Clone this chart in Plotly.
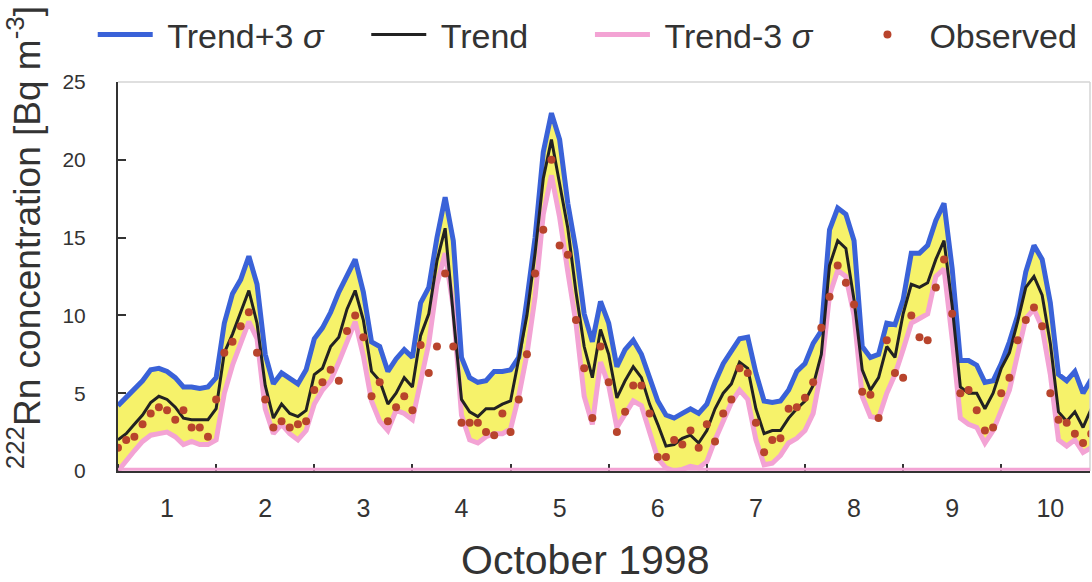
import plotly.graph_objects as go

# time axis: hours since 1 Oct 1998 00:00, 2-hour steps
hours = list(range(0, 240, 2))
day_labels = ["1", "2", "3", "4", "5", "6", "7", "8", "9", "10"]
day_centers = [12, 36, 60, 84, 108, 132, 156, 180, 204, 228]
y_ticks = [0, 5, 10, 15, 20, 25]

trend = [2.0, 2.4, 3.0, 3.6, 4.4, 4.8, 4.6, 4.1, 3.4, 3.3, 3.3, 3.3,
         4.0, 7.6, 8.8, 10.2, 11.6, 9.5, 5.5, 3.4, 4.3, 3.7, 3.5, 3.9,
         6.2, 6.6, 8.0, 8.6, 10.4, 11.6, 9.7, 6.4, 5.8, 4.3, 5.0, 6.0,
         5.4, 8.7, 10.1, 13.5, 15.6, 10.0, 4.6, 3.8, 3.5, 4.0, 4.0, 4.3,
         4.5, 7.2, 10.0, 14.0, 18.8, 21.3, 18.5, 15.6, 11.5, 8.0, 6.0, 9.1,
         7.5, 4.7, 5.8, 6.7, 6.0, 4.3, 3.0, 1.6, 1.7, 2.1, 2.3, 1.8,
         2.6, 4.0, 5.0, 5.6, 7.0, 6.6, 4.0, 2.4, 2.6, 2.6, 3.4, 4.0,
         4.5, 5.5, 7.5, 13.2, 14.8, 14.3, 11.0, 6.5, 5.2, 6.0, 8.0, 7.3,
         10.1, 12.0, 11.8, 12.1, 13.6, 14.8, 10.6, 5.4, 5.0, 5.0, 4.0, 5.0,
         6.6, 7.6, 9.6, 11.8, 12.5, 11.3, 8.2, 3.8, 3.2, 3.8, 2.8, 4.0]

upper = [4.2, 4.7, 5.2, 5.8, 6.5, 6.6, 6.4, 6.0, 5.4, 5.4, 5.3, 5.4,
         6.0, 9.5, 11.4, 12.3, 13.8, 12.0, 7.5, 5.6, 6.3, 5.9, 5.6, 6.5,
         8.5, 9.2, 10.2, 11.5, 12.5, 13.6, 11.5, 8.3, 8.0, 6.4, 7.2, 7.8,
         7.3, 10.8, 11.8, 15.0, 17.6, 14.8, 7.3, 6.0, 5.7, 5.8, 6.4, 6.4,
         6.5, 7.3, 11.0, 15.0, 20.5, 23.0, 21.3, 17.2, 14.2, 10.1, 8.3, 10.9,
         9.5, 6.7, 7.8, 8.4, 7.5, 6.0, 4.5, 3.6, 3.4, 3.7, 4.0, 3.7,
         4.3, 5.7, 6.9, 7.7, 8.5, 8.6, 6.3, 4.5, 4.4, 4.5, 5.2, 6.4,
         6.9, 8.2, 9.0, 15.5, 16.9, 16.5, 14.8, 8.0, 7.3, 7.5, 9.5, 9.4,
         11.0, 14.0, 14.0, 14.5, 16.1, 17.2, 13.0, 7.1, 7.1, 6.8, 5.7, 5.8,
         6.9, 8.3, 10.0, 12.8, 14.5, 13.6, 10.8, 6.2, 5.8, 6.4, 5.0, 5.9]

lower = [0.0, 0.7, 1.3, 1.9, 2.3, 2.4, 2.5, 2.2, 1.7, 1.9, 1.7, 1.7,
         2.0, 5.0, 6.8, 8.2, 9.6, 8.5, 4.0, 2.4, 3.0, 2.4, 2.0, 2.6,
         4.3, 5.2, 5.8, 7.0, 8.2, 9.6, 7.4, 4.5, 3.2, 2.6, 3.9, 3.7,
         3.3, 5.6, 8.2, 12.0, 14.0, 10.5, 3.6, 2.0, 1.8, 2.2, 2.4, 2.4,
         2.7, 4.8, 7.5, 11.2, 16.5, 19.0, 16.3, 12.8, 9.5, 4.8, 3.0, 7.0,
         5.5, 2.8, 3.6, 4.5, 4.2, 2.6, 0.8, 0.2, 0.0, 0.1, 0.3, 0.2,
         0.6, 2.0, 3.3, 4.4, 5.2, 4.6, 2.0, 0.4, 0.5, 1.0, 1.8, 2.1,
         2.6, 3.7, 6.5, 11.3, 12.9, 12.5, 10.0, 4.8, 3.5, 3.4, 5.0, 6.2,
         7.8, 9.5, 9.8, 10.1, 12.5, 13.0, 8.5, 3.4, 3.0, 2.8, 1.8, 2.6,
         3.9, 5.2, 7.5, 9.8, 10.4, 9.2, 6.2, 2.0, 1.6, 2.0, 1.2, 1.5]

observed = [1.5, 2.0, 2.2, 3.0, 3.7, 4.1, 3.9, 3.3, 3.9, 2.8, 2.8, 2.2,
            4.6, 7.6, 8.3, 9.3, 10.2, 7.6, 4.6, 2.8, 3.2, 2.8, 3.0, 3.2,
            5.2, 5.7, 6.5, 5.8, 9.0, 10.0, 8.6, 4.8, 5.7, 3.2, 4.1, 4.8,
            3.9, 8.1, 6.3, 8.0, 12.7, 8.0, 3.1, 3.1, 3.1, 2.5, 2.3, 3.7,
            2.5, 4.6, 7.5, 12.7, 15.5, 20.0, 14.5, 13.9, 9.7, 6.6, 3.4, 8.0,
            5.7, 2.5, 3.8, 5.5, 5.5, 3.7, 0.9, 0.9, 2.0, 1.7, 2.6, 1.5,
            3.0, 1.9, 3.7, 4.6, 6.6, 6.3, 3.1, 1.2, 2.0, 2.1, 4.0, 4.1,
            4.7, 5.7, 9.2, 11.2, 13.2, 12.1, 10.7, 5.1, 4.9, 3.4, 8.4, 6.3,
            6.0, 10.0, 8.6, 8.4, 11.8, 13.6, 10.1, 5.0, 5.2, 3.9, 2.6, 2.8,
            5.0, 6.0, 8.4, 9.7, 10.5, 9.3, 5.0, 3.3, 3.1, 2.4, 1.8, 2.4]

BLUE = "#3a62d8"
BLACK = "#222222"
PINK = "#f3a3d4"
YELLOW = "#f6f26a"
RED = "#b8442c"
NB = "\u00a0"

fig = go.Figure()
# yellow band between the +/- 3 sigma curves
fig.add_trace(go.Scatter(x=hours, y=lower, mode="lines", line=dict(width=0),
                         showlegend=False, hoverinfo="skip"))
fig.add_trace(go.Scatter(x=hours, y=upper, mode="lines", line=dict(width=0),
                         fill="tonexty", fillcolor=YELLOW,
                         showlegend=False, hoverinfo="skip"))
fig.add_trace(go.Scatter(x=hours, y=lower, mode="lines",
                         name=NB + "Trend-3 <i>σ</i>" + NB * 4,
                         line=dict(color=PINK, width=5), legendrank=3))
fig.add_trace(go.Scatter(x=hours, y=upper, mode="lines",
                         name=NB + "Trend+3 <i>σ</i>" + NB * 4,
                         line=dict(color=BLUE, width=5), legendrank=1))
fig.add_trace(go.Scatter(x=hours, y=trend, mode="lines",
                         name=NB + "Trend" + NB * 6,
                         line=dict(color=BLACK, width=3), legendrank=2))
fig.add_trace(go.Scatter(x=hours, y=observed, mode="markers",
                         name=NB + "Observed",
                         marker=dict(color=RED, size=8, line=dict(width=0)),
                         legendrank=4))

regular = "Liberation Sans, Arial, Helvetica, sans-serif"

fig.update_layout(
    width=1092, height=582,
    margin=dict(l=118, r=2, t=82, b=111, autoexpand=False),
    paper_bgcolor="white", plot_bgcolor="white",
    showlegend=True,
    legend=dict(orientation="h", x=-0.026, xanchor="left", y=1.121, yanchor="middle",
                traceorder="normal",
                font=dict(family=regular, size=34, color="#333"),
                bgcolor="rgba(0,0,0,0)", itemwidth=55),
    xaxis=dict(range=[0, 237.7], tickmode="array", tickvals=day_centers,
               ticktext=day_labels, ticks="", showgrid=False, zeroline=False,
               showline=True, linecolor="#333", linewidth=2,
               tickfont=dict(family=regular, size=25, color="#333"),
               ticklabelstandoff=14,
               minor=dict(tickmode="linear", tick0=0, dtick=24, ticks="inside",
                          ticklen=7, tickwidth=2, tickcolor="#333", showgrid=False)),
    yaxis=dict(range=[0, 25], tickmode="array", tickvals=y_ticks, ticks="inside",
               ticklen=8, tickwidth=2, tickcolor="#333", showgrid=False,
               zeroline=False, showline=True, linecolor="#333", linewidth=2,
               tickfont=dict(family=regular, size=21, color="#333"),
               ticklabelstandoff=26),
    shapes=[
        dict(type="line", xref="paper", yref="paper", x0=0, x1=1, y0=1, y1=1,
             line=dict(color="#d4d4d4", width=1.5)),
        dict(type="line", xref="paper", yref="paper", x0=1, x1=1, y0=0, y1=1,
             line=dict(color="#d4d4d4", width=1.5)),
        dict(type="line", xref="paper", yref="y", x0=0, x1=1, y0=0.12, y1=0.12,
             line=dict(color=PINK, width=3)),
    ],
    annotations=[
        dict(text="<sup>222</sup>Rn concentration [Bq m<sup>-3</sup>]", textangle=-90,
             xref="paper", yref="paper", x=-0.096, y=0.0, xanchor="center",
             yanchor="bottom", showarrow=False,
             font=dict(family=regular, size=37, color="#333")),
        dict(text="October 1998", xref="paper", yref="paper", x=0.4805, y=-0.229,
             xanchor="center", yanchor="middle", showarrow=False,
             font=dict(family=regular, size=41, color="#333")),
    ],
)

fig.write_html("out.html", config={"displayModeBar": False},
               post_script="document.body.style.margin='0px';"
                           "document.documentElement.style.overflow='hidden';")
